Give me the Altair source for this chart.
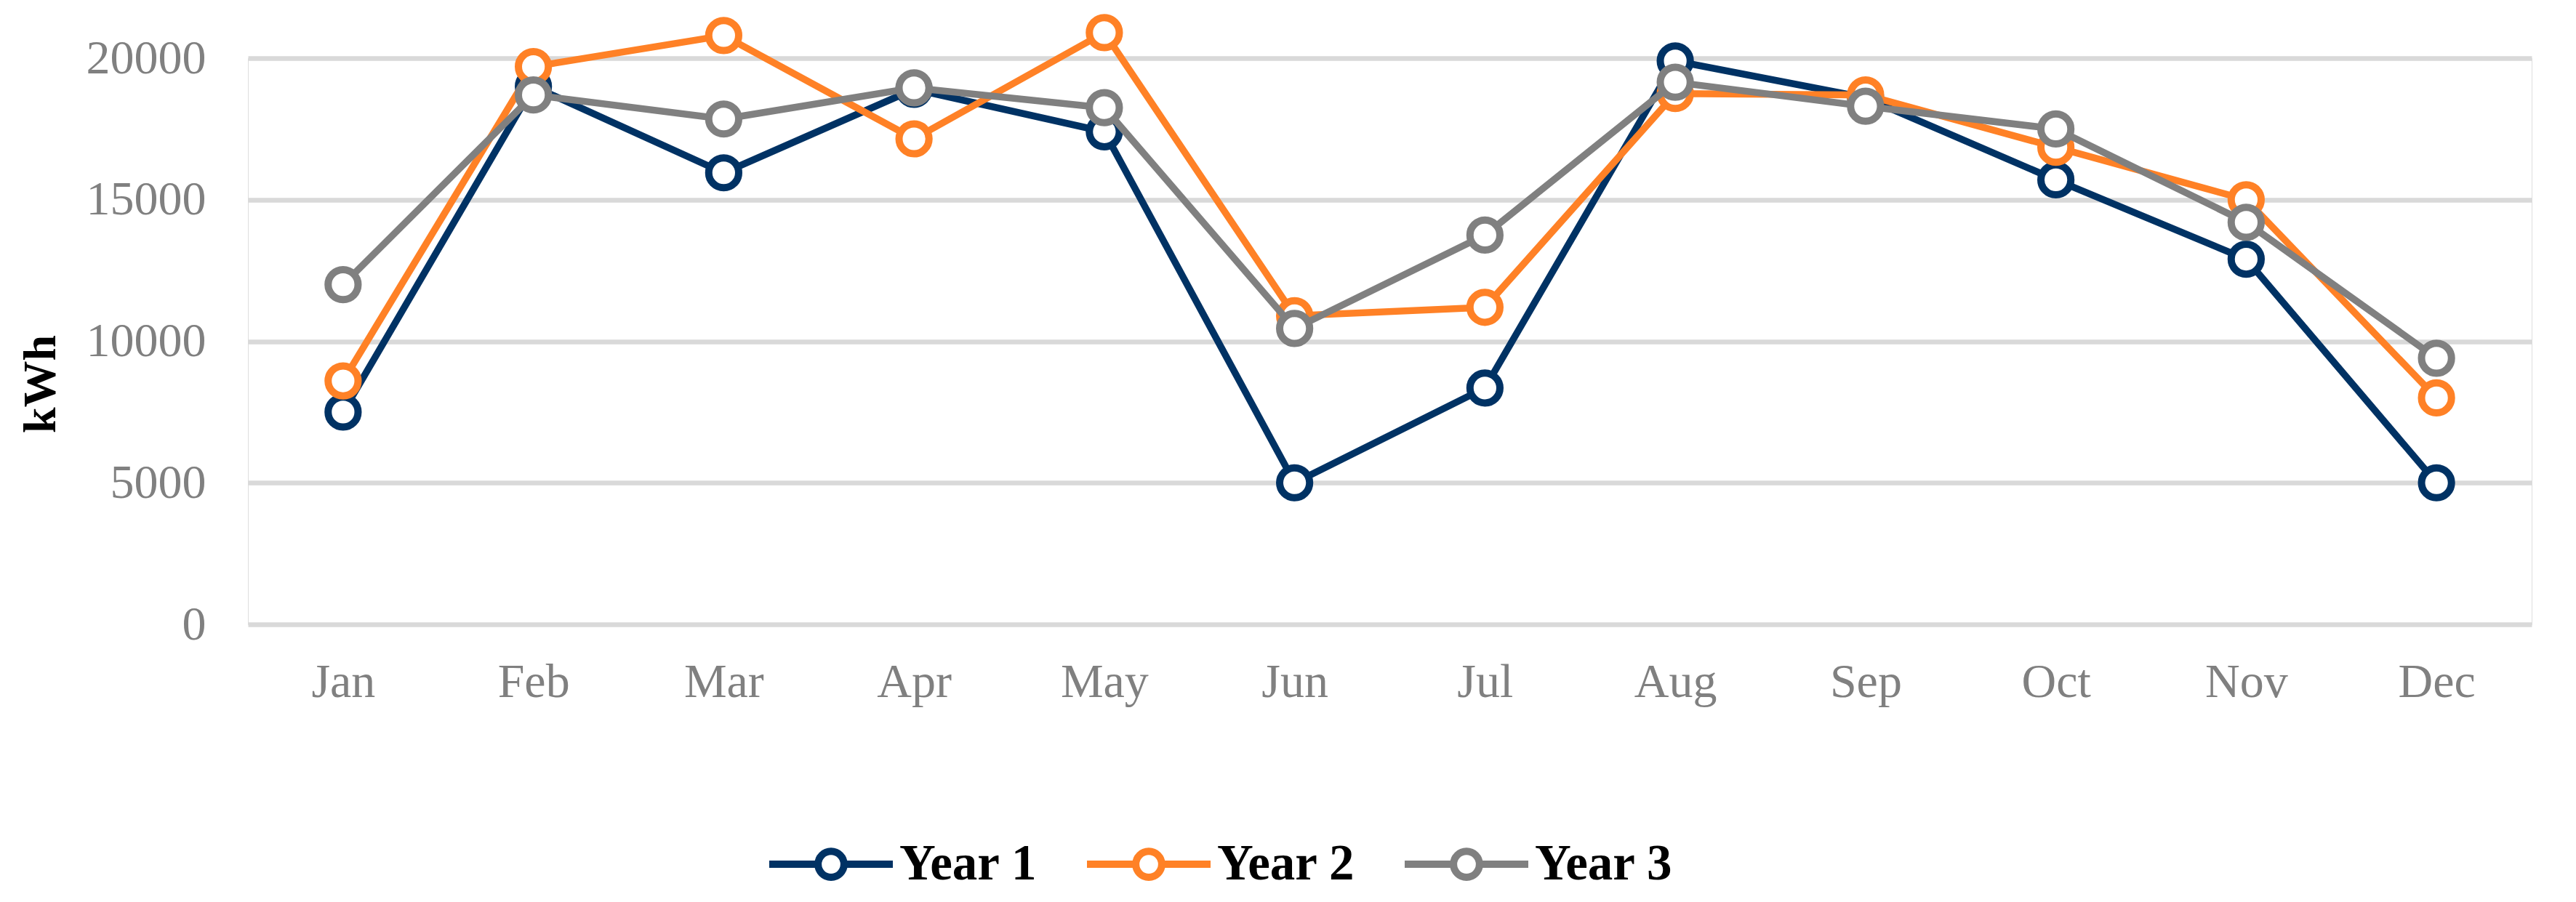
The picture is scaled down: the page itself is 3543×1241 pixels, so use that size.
import altair as alt
import pandas as pd

months = ["Jan", "Feb", "Mar", "Apr", "May", "Jun", "Jul", "Aug", "Sep", "Oct", "Nov", "Dec"]
series_names = ["Year 1", "Year 2", "Year 3"]
year1 = [7500, 19000, 15950, 18900, 17400, 5000, 8350, 19900, 18600, 15700, 12900, 5000]
year2 = [8600, 19700, 20800, 17150, 20900, 10900, 11200, 18750, 18700, 16850, 15000, 8000]
year3 = [12000, 18700, 17850, 18950, 18250, 10450, 13750, 19150, 18300, 17500, 14200, 9400]
colors = ["#003264", "#FF8126", "#808080"]
y_ticks = [0, 5000, 10000, 15000, 20000]

rows = []
for name, vals in zip(series_names, [year1, year2, year3]):
    for m, v in zip(months, vals):
        rows.append({"month": m, "series": name, "kwh": v})
df = pd.DataFrame(rows)

FONT = "Liberation Serif"

x_enc = alt.X(
    "month:N",
    sort=months,
    title=None,
    scale=alt.Scale(paddingInner=0, paddingOuter=0),
    axis=alt.Axis(
        labelFont=FONT, labelFontSize=66, labelColor="#808080",
        labelPadding=47, ticks=False, domain=False, grid=False, labelAngle=0,
        labelLimit=0,
    ),
)
y_enc = alt.Y(
    "kwh:Q",
    title="kWh",
    scale=alt.Scale(domain=[0, 20000], nice=False, zero=True),
    axis=alt.Axis(
        values=y_ticks, format="d", labelLimit=0,
        labelFont=FONT, labelFontSize=66, labelColor="#808080",
        labelPadding=58, ticks=False, domain=False, grid=True,
        gridColor="#D9D9D9", gridWidth=6.5,
        titleFont=FONT, titleFontSize=64, titleFontWeight="bold", titleColor="#000000",
        titleAngle=270, titleX=-285, titleY=448, titleAlign="center", titleBaseline="middle",
    ),
)

legend_symbol = ("M-1,0H-0.21M0.21,0H1M-0.21,0A0.21,0.21,0,1,0,0.21,0"
                 "A0.21,0.21,0,1,0,-0.21,0Z")

color_enc = alt.Color(
    "series:N",
    scale=alt.Scale(domain=series_names, range=colors),
    legend=alt.Legend(
        title=None, orient="none", direction="horizontal", legendX=712, legendY=1019,
        labelFont=FONT, labelFontSize=69, labelFontWeight="bold", labelColor="#000000",
        labelLimit=0,
        symbolType=legend_symbol, symbolSize=28900, symbolStrokeWidth=10,
        symbolFillColor="white", labelOffset=4, columnPadding=48, padding=0,
    ),
)
stroke_enc = alt.Stroke(
    "series:N",
    scale=alt.Scale(domain=series_names, range=colors),
    legend=None,
)

base = alt.Chart(df)
layers = []
for name in series_names:
    sub = base.transform_filter(alt.datum.series == name)
    layers.append(sub.mark_line(strokeWidth=9.5).encode(x=x_enc, y=y_enc, color=color_enc))
    layers.append(
        sub.mark_point(shape="circle", size=1700, strokeWidth=10, fill="white",
                       fillOpacity=1, opacity=1, filled=False)
        .encode(x=x_enc, y=y_enc, stroke=stroke_enc)
    )

chart = alt.layer(*layers).properties(
    width=3141,
    height=779,
    autosize=alt.AutoSizeParams(type="none"),
    padding={"left": 333, "top": 72, "right": 40, "bottom": 380},
).configure_view(stroke=None).configure(background="white")

chart.save("out.html", embed_options={"renderer": "svg", "actions": False})
